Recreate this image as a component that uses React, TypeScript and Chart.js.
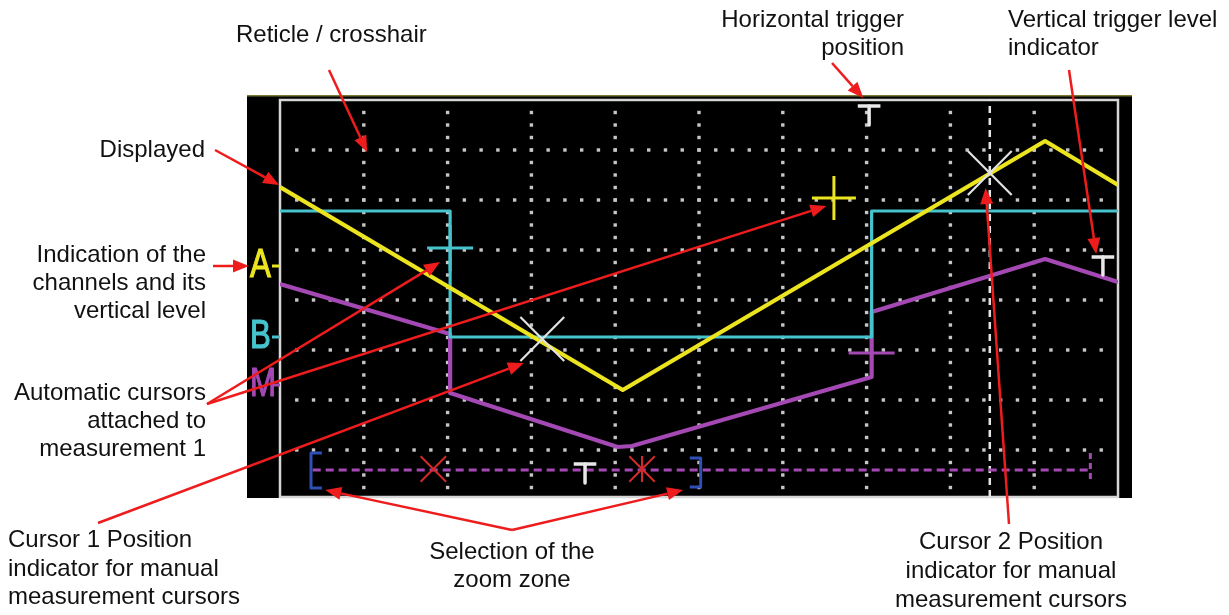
import React, { useEffect, useRef } from "react";
import { Chart, registerables } from "chart.js";

Chart.register(...registerables);

// ---------- data (screen units: time 0..10 div, volts 0..8 div) ----------
const gridX = [1, 2, 3, 4, 5, 6, 7, 8, 9];
const gridY = [1, 2, 3, 4, 5, 6, 7];

const chA_t = [0, 4.09, 9.13, 10];
const chA_v = [6.26, 2.2, 7.18, 6.3];
const chB_t = [0, 2.03, 2.03, 7.06, 7.06, 10];
const chB_v = [5.78, 5.78, 3.26, 3.26, 5.78, 5.78];
const chM_t = [0, 2.03, 2.03, 4.03, 4.2, 7.06, 7.06, 9.13, 10];
const chM_v = [4.32, 3.32, 2.14, 1.06, 1.08, 2.46, 3.76, 4.82, 4.36];

const channelNames = ["A", "B", "M"];
const channelLevels = [4.72, 3.3, 2.34];

const autoCursorA = [6.61, 6.04];
const autoCursorB = [2.03, 5.04];
const autoCursorM = [7.06, 2.94];

const manualCursorT = [3.13, 8.47];
const manualCursorV = [3.22, 6.54];

const triggerT = [7.03, 9.82, 3.64];
const triggerTop = [7.88, 4.86, 0.72];
const triggerBottom = [7.5, 4.5, 0.34];

const zoomBarT = [0.39, 9.67];
const zoomBarV = 0.6;
const zoomEndV = [0.94, 0.34];
const zoomOpenT = [0.5, 0.37, 0.37, 0.5];
const zoomOpenV = [0.94, 0.94, 0.24, 0.24];
const zoomCloseT = [4.89, 5.02, 5.02, 4.89];
const zoomCloseV = [0.84, 0.84, 0.26, 0.26];
const cursorMarkT = [1.83, 4.32];
const cursorMarkV = 0.62;

// annotation arrows: tail in page pixels, tip in screen units
const arrowTails = [
  [329, 70], [215, 150], [213, 266], [207, 404], [207, 404], [98, 523],
  [512, 530], [512, 530], [832, 63], [1069, 70], [1009, 524],
];
const arrowTipT = [1.04, -0.01, -0.37, 1.91, 6.52, 2.91, 0.54, 4.81, 6.96, 9.74, 8.42];
const arrowTipV = [6.96, 6.3, 4.68, 4.76, 5.88, 2.74, 0.2, 0.2, 8.04, 4.92, 6.24];

// ---------- colours ----------
const YELLOW = "#ece41e";
const CYAN = "#46c3cc";
const MAGENTA = "#a448b4";
const WHITE = "#e8e8e8";
const BLUE = "#2f4fb4";
const RED = "#d22a2a";
const ARROW = "#ee1c1c";

const pts = (xs: number[], ys: number[]) => xs.map((x, i) => ({ x, y: ys[i] }));

const lineDs = (data: any[], color: string, width: number, order: number, dash: number[] = []) => ({
  data,
  showLine: true,
  borderColor: color,
  borderWidth: width,
  borderDash: dash,
  pointRadius: 0,
  tension: 0,
  fill: false,
  order,
  borderJoinStyle: "round",
  borderCapStyle: "butt",
});

const markDs = (data: any[], style: string, radius: number, color: string, width: number, order: number, rotation = 0) => ({
  data,
  showLine: false,
  pointStyle: style,
  pointRadius: radius,
  pointRotation: rotation,
  pointBorderColor: color,
  borderColor: color,
  pointBackgroundColor: color,
  pointBorderWidth: width,
  order,
});

function drawArrow(ctx: CanvasRenderingContext2D, x0: number, y0: number, x1: number, y1: number) {
  const ang = Math.atan2(y1 - y0, x1 - x0);
  const L = 16;
  const W = 6.5;
  const bx = x1 - L * Math.cos(ang);
  const by = y1 - L * Math.sin(ang);
  ctx.beginPath();
  ctx.moveTo(x0, y0);
  ctx.lineTo(bx, by);
  ctx.stroke();
  ctx.beginPath();
  ctx.moveTo(x1, y1);
  ctx.lineTo(bx + W * Math.sin(ang), by - W * Math.cos(ang));
  ctx.lineTo(bx - W * Math.sin(ang), by + W * Math.cos(ang));
  ctx.closePath();
  ctx.fill();
}

const scopePlugin = {
  id: "scope",
  beforeDraw(chart: any) {
    const { ctx, chartArea: a } = chart;
    ctx.save();
    ctx.fillStyle = "#000";
    ctx.fillRect(a.left - 33, a.top - 5, a.right - a.left + 47, a.bottom - a.top + 6);
    ctx.fillStyle = "#7a7a30";
    ctx.fillRect(a.left - 33, a.top - 5, a.right - a.left + 47, 1.5);
    ctx.restore();
  },
  beforeDatasetsDraw(chart: any) {
    const { ctx, chartArea: a, scales } = chart;
    const xs = scales.x;
    const ys = scales.y;
    ctx.save();
    ctx.fillStyle = "#c6c6c6";
    const d = 3.4;
    gridX.forEach((g) => {
      const px = xs.getPixelForValue(g);
      for (let k = 1; k < 32; k++) {
        const v = ys.max - 0.25 * k;
        if (v <= ys.min) break;
        const py = ys.getPixelForValue(v);
        ctx.fillRect(px - d / 2, py - d / 2, d, d);
      }
    });
    gridY.forEach((g) => {
      const py = ys.getPixelForValue(g);
      for (let k = 1; k < 50; k++) {
        const px = xs.getPixelForValue(0.2 * k);
        ctx.fillRect(px - d / 2, py - d / 2, d, d);
      }
    });
    // screen border
    ctx.strokeStyle = "#d6d6d6";
    ctx.lineWidth = 2.5;
    ctx.strokeRect(a.left, a.top, a.right - a.left, a.bottom - a.top);
    ctx.restore();
  },
  afterDatasetsDraw(chart: any) {
    const { ctx, chartArea: a, scales } = chart;
    const ys = scales.y;
    const colors = [YELLOW, CYAN, MAGENTA];
    ctx.save();
    channelNames.forEach((name, i) => {
      const py = ys.getPixelForValue(channelLevels[i]);
      ctx.fillStyle = colors[i];
      ctx.strokeStyle = colors[i];
      ctx.save();
      ctx.translate(a.left - 30, py);
      ctx.scale(0.78, 1);
      ctx.font = '40px "Liberation Sans", Arial, sans-serif';
      ctx.textBaseline = "middle";
      ctx.textAlign = "left";
      ctx.lineWidth = 1.2;
      ctx.fillText(name, 0, 2);
      ctx.strokeText(name, 0, 2);
      ctx.restore();
      ctx.lineWidth = 3;
      ctx.beginPath();
      ctx.moveTo(a.left - 8, py + 2);
      ctx.lineTo(a.left, py + 2);
      ctx.stroke();
    });
    ctx.restore();
  },
  afterDraw(chart: any) {
    const { ctx, scales } = chart;
    ctx.save();
    ctx.strokeStyle = ARROW;
    ctx.fillStyle = ARROW;
    ctx.lineWidth = 2.5;
    arrowTails.forEach((tail, i) => {
      const x1 = scales.x.getPixelForValue(arrowTipT[i]);
      const y1 = scales.y.getPixelForValue(arrowTipV[i]);
      drawArrow(ctx, tail[0], tail[1], x1, y1);
    });
    ctx.restore();
  },
};

type Label = { lines: string[]; top: number; left?: number; right?: number; center?: number; lh?: number };

const labels: Label[] = [
  { lines: ["Reticle / crosshair"], left: 236, top: 20 },
  { lines: ["Displayed"], right: 205, top: 135 },
  { lines: ["Indication of the", "channels and its", "vertical level"], right: 206, top: 240 },
  { lines: ["Automatic cursors", "attached to", "measurement 1"], right: 206, top: 378 },
  { lines: ["Horizontal trigger", "position"], right: 904, top: 5 },
  { lines: ["Vertical trigger level", "indicator"], left: 1008, top: 5 },
  { lines: ["Cursor 1 Position", "indicator for manual", "measurement cursors"], left: 8, top: 525, lh: 28.5 },
  { lines: ["Selection of the", "zoom zone"], center: 512, top: 537 },
  { lines: ["Cursor 2 Position", "indicator for manual", "measurement cursors"], center: 1011, top: 526, lh: 29 },
];

export default function App() {
  const canvasRef = useRef<HTMLCanvasElement | null>(null);

  useEffect(() => {
    const canvas = canvasRef.current;
    if (!canvas) return;

    const datasets: any[] = [];
    // manual cursors
    datasets.push(markDs(pts(manualCursorT, manualCursorV), "crossRot", 31, "#e2e2e2", 2.2, 0));
    datasets.push(lineDs([{ x: manualCursorT[1], y: 0.06 }, { x: manualCursorT[1], y: 8 }], "#e4e4e4", 2.5, 6, [7, 5]));
    // trigger T markers
    triggerT.forEach((t, i) => {
      datasets.push(lineDs([{ x: t - 0.135, y: triggerTop[i] }, { x: t + 0.135, y: triggerTop[i] }], WHITE, 3.5, 0));
      datasets.push(lineDs([{ x: t, y: triggerTop[i] }, { x: t, y: triggerBottom[i] }], WHITE, 3.5, 0));
    });
    // traces
    datasets.push(lineDs(pts(chA_t, chA_v), YELLOW, 4.2, 1));
    datasets.push(lineDs(pts(chB_t, chB_v), CYAN, 3.2, 2));
    datasets.push(lineDs(pts(chM_t, chM_v), MAGENTA, 4.2, 3));
    // automatic cursors
    datasets.push(markDs([{ x: autoCursorA[0], y: autoCursorA[1] }], "cross", 22, YELLOW, 3, 1));
    datasets.push(markDs([{ x: autoCursorB[0], y: autoCursorB[1] }], "cross", 23, CYAN, 3, 2));
    datasets.push(markDs([{ x: autoCursorM[0], y: autoCursorM[1] }], "cross", 23, MAGENTA, 3, 3));
    // zoom bar
    datasets.push(lineDs([{ x: zoomBarT[0], y: zoomBarV }, { x: zoomBarT[1], y: zoomBarV }], MAGENTA, 3, 5, [8, 5]));
    datasets.push(lineDs([{ x: zoomBarT[1], y: zoomEndV[0] }, { x: zoomBarT[1], y: zoomEndV[1] }], MAGENTA, 3, 5, [6, 4]));
    datasets.push(lineDs(pts(zoomOpenT, zoomOpenV), BLUE, 3, 4));
    datasets.push(lineDs(pts(zoomCloseT, zoomCloseV), BLUE, 3, 4));
    // manual cursor position indicators
    datasets.push(markDs(cursorMarkT.map((x) => ({ x, y: cursorMarkV })), "crossRot", 18, RED, 2, 0));
    datasets.push(markDs([{ x: cursorMarkT[1], y: cursorMarkV }], "line", 13, RED, 2, 0, 90));

    const chart = new Chart(canvas, {
      type: "scatter",
      data: { datasets },
      options: {
        animation: false,
        responsive: false,
        events: [],
        layout: { padding: { left: 280, top: 100, right: 111, bottom: 118 } },
        plugins: {
          legend: { display: false },
          tooltip: { enabled: false },
          title: { display: false },
        },
        scales: {
          x: { type: "linear", min: 0, max: 10, display: false },
          y: { type: "linear", min: 0.06, max: 8, display: false },
        },
      } as any,
      plugins: [scopePlugin as any],
    });
    return () => chart.destroy();
  }, []);

  return (
    <div
      style={{
        position: "fixed",
        left: 0,
        top: 0,
        width: 1229,
        height: 615,
        background: "#ffffff",
        overflow: "hidden",
      }}
    >
      <canvas ref={canvasRef} width={1229} height={615} style={{ width: 1229, height: 615, display: "block" }} />
      {labels.map((l, i) => {
        const style: any = {
          position: "absolute",
          top: l.top,
          font: '24px "Liberation Sans", Arial, sans-serif',
          lineHeight: (l.lh ?? 28) + "px",
          color: "#111",
          whiteSpace: "nowrap",
        };
        if (l.left !== undefined) {
          style.left = l.left;
          style.textAlign = "left";
        } else if (l.right !== undefined) {
          style.right = 1229 - l.right;
          style.textAlign = "right";
        } else if (l.center !== undefined) {
          style.left = l.center - 150;
          style.width = 300;
          style.textAlign = "center";
        }
        return (
          <div key={i} style={style}>
            {l.lines.map((s, j) => (
              <div key={j}>{s}</div>
            ))}
          </div>
        );
      })}
    </div>
  );
}
